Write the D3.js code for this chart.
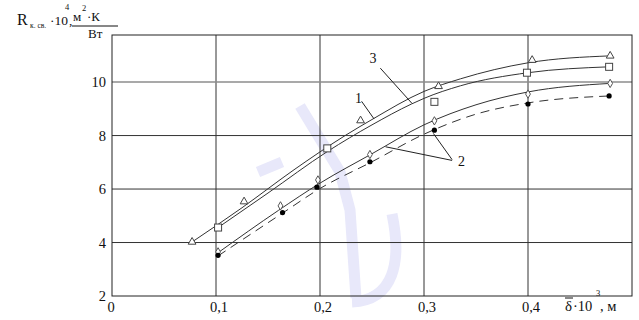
<!DOCTYPE html>
<html>
<head>
<meta charset="utf-8">
<script src="https://cdn.jsdelivr.net/npm/d3@7"></script>
<style>
  body { margin: 0; background: #fff; }
  text { font-family: "Liberation Serif", "Times New Roman", serif; fill: #111; }
</style>
</head>
<body>
<div id="chart"></div>
<script>
//Data
const xTicks = [0, 0.1, 0.2, 0.3, 0.4];
const yTicks = [2, 4, 6, 8, 10];

//measured points
const triX = [0.077, 0.127, 0.239, 0.314, 0.404, 0.479];
const triY = [4.02, 5.53, 8.56, 9.84, 10.82, 10.98];
const sqX = [0.102, 0.207, 0.31, 0.399, 0.478];
const sqY = [4.56, 7.52, 9.26, 10.35, 10.57];
const diaX = [0.102, 0.162, 0.198, 0.248, 0.31, 0.40, 0.479];
const diaY = [3.65, 5.37, 6.34, 7.29, 8.55, 9.55, 9.95];
const dotX = [0.102, 0.164, 0.197, 0.248, 0.31, 0.40, 0.478];
const dotY = [3.52, 5.12, 6.07, 7.02, 8.20, 9.18, 9.48];

//fitted curves
const curve1X = [0.077, 0.125, 0.175, 0.225, 0.25, 0.3, 0.335, 0.4, 0.479];
const curve1Y = [4.02, 5.3, 6.72, 8.02, 8.6, 9.65, 10.12, 10.72, 10.98];
const curve3X = [0.102, 0.15, 0.207, 0.25, 0.288, 0.3, 0.335, 0.4, 0.478];
const curve3Y = [4.56, 5.85, 7.4, 8.4, 9.18, 9.39, 9.86, 10.35, 10.57];
const curve2X = [0.102, 0.16, 0.2, 0.25, 0.3, 0.35, 0.4, 0.479];
const curve2Y = [3.62, 5.2, 6.22, 7.32, 8.4, 9.15, 9.63, 9.95];
const curve2dX = [0.102, 0.164, 0.2, 0.25, 0.3, 0.35, 0.4, 0.478];
const curve2dY = [3.5, 5.1, 6.02, 7.02, 8.05, 8.8, 9.22, 9.48];

const w = 639, h = 320;
const svg = d3.select('#chart').append('svg')
  .attr('width', w)
  .attr('height', h);

const x = d3.scaleLinear().domain([0, 0.5]).range([112, 632]);
const y = d3.scaleLinear().domain([2, 11.76]).range([296, 35]);

//watermark (faint)
const wm = svg.append('g').attr('fill', 'none').attr('stroke', '#e8e8fa')
  .attr('stroke-width', 11);
wm.append('path').attr('d', 'M300,106 L340,172 L350,210 L356,298');
wm.append('path').attr('d', 'M258,172 L282,162');
wm.append('path').attr('d', 'M392,214 C402,262 394,300 352,302');

//grid
const grid = svg.append('g');
grid.selectAll('.vg').data(xTicks.slice(1)).join('line')
  .attr('x1', d => x(d)).attr('x2', d => x(d))
  .attr('y1', y(11.76)).attr('y2', y(2))
  .attr('stroke', '#333').attr('stroke-width', 1);
grid.selectAll('.hg').data(yTicks.slice(1)).join('line')
  .attr('x1', x(0)).attr('x2', x(0.5))
  .attr('y1', d => y(d)).attr('y2', d => y(d))
  .attr('stroke', d => d === 10 ? '#8c8c8c' : '#333')
  .attr('stroke-width', d => d === 10 ? 1.6 : 1);
svg.append('rect')
  .attr('x', x(0)).attr('y', y(11.76))
  .attr('width', x(0.5) - x(0)).attr('height', y(2) - y(11.76))
  .attr('fill', 'none').attr('stroke', '#222').attr('stroke-width', 1);

//tick labels
const fmt = d => d === 0 ? '0' : d3.format('.1f')(d).replace('.', ',');
svg.selectAll('.xt').data(xTicks).join('text')
  .attr('x', d => x(d) + (d === 0 ? -1 : 3)).attr('y', 312)
  .attr('text-anchor', 'middle').attr('font-size', 14.5)
  .text(fmt);
svg.selectAll('.yt').data(yTicks).join('text')
  .attr('x', 106).attr('y', d => y(d) + 5)
  .attr('text-anchor', 'end').attr('font-size', 14.5)
  .text(d => d);

//curves
const line = d3.line().x(d => x(d[0])).y(d => y(d[1])).curve(d3.curveMonotoneX);
const curves = [
  [curve1X, curve1Y, null],
  [curve3X, curve3Y, null],
  [curve2X, curve2Y, null],
  [curve2dX, curve2dY, '9,6']
];
curves.forEach(c => {
  svg.append('path')
    .datum(d3.zip(c[0], c[1]))
    .attr('d', line)
    .attr('fill', 'none')
    .attr('stroke', '#333')
    .attr('stroke-width', 1)
    .attr('stroke-dasharray', c[2]);
});

//markers
const tri = d3.symbol().type(d3.symbolTriangle).size(26);
svg.selectAll('.tri').data(d3.zip(triX, triY)).join('path')
  .attr('d', tri)
  .attr('transform', d => `translate(${x(d[0])},${y(d[1])})`)
  .attr('fill', '#fff').attr('stroke', '#444').attr('stroke-width', 1);
svg.selectAll('.sq').data(d3.zip(sqX, sqY)).join('rect')
  .attr('x', d => x(d[0]) - 3.5).attr('y', d => y(d[1]) - 3.5)
  .attr('width', 7).attr('height', 7)
  .attr('fill', '#fff').attr('stroke', '#444').attr('stroke-width', 1);
const dia = d3.symbol().type(d3.symbolDiamond).size(20);
svg.selectAll('.dia').data(d3.zip(diaX, diaY)).join('path')
  .attr('d', dia)
  .attr('transform', d => `translate(${x(d[0])},${y(d[1])})`)
  .attr('fill', '#fff').attr('stroke', '#555').attr('stroke-width', 1);
svg.selectAll('.dot').data(d3.zip(dotX, dotY)).join('circle')
  .attr('cx', d => x(d[0])).attr('cy', d => y(d[1]))
  .attr('r', 2.6).attr('fill', '#000');

//curve labels with leaders
const leaders = [
  [[0.240, 9.28], [0.252, 8.62]],
  [[0.258, 10.52], [0.2885, 9.2]],
  [[0.327, 7.07], [0.263, 7.58]],
  [[0.327, 7.1], [0.309, 8.08]]
];
leaders.forEach(l => {
  svg.append('line')
    .attr('x1', x(l[0][0])).attr('y1', y(l[0][1]))
    .attr('x2', x(l[1][0])).attr('y2', y(l[1][1]))
    .attr('stroke', '#222').attr('stroke-width', 1);
});
const labels = [['1', 0.237, 9.42], ['3', 0.251, 10.9], ['2', 0.336, 7.05]];
svg.selectAll('.lab').data(labels).join('text')
  .attr('x', d => x(d[1])).attr('y', d => y(d[2]) + 5)
  .attr('text-anchor', 'middle').attr('font-size', 14)
  .text(d => d[0]);

//y axis title
const yt = svg.append('g');
yt.append('text').attr('x', 17).attr('y', 25).attr('font-size', 16).text('R');
yt.append('text').attr('x', 30).attr('y', 28).attr('font-size', 7.5).text('к. св.');
yt.append('text').attr('x', 50).attr('y', 25).attr('font-size', 13.5).text('·10');
yt.append('text').attr('x', 65).attr('y', 10).attr('font-size', 8.5).text('4');
yt.append('text').attr('x', 69).attr('y', 25).attr('font-size', 13.5).text(',');
yt.append('text').attr('x', 73).attr('y', 21).attr('font-size', 13).text('м');
yt.append('text').attr('x', 82).attr('y', 11).attr('font-size', 8.5).text('2');
yt.append('text').attr('x', 87).attr('y', 21).attr('font-size', 13).text('·К');
yt.append('line').attr('x1', 72).attr('x2', 118).attr('y1', 26).attr('y2', 26)
  .attr('stroke', '#111').attr('stroke-width', 1);
yt.append('text').attr('x', 88).attr('y', 38).attr('font-size', 13).text('Вт');

//x axis title
const xt = svg.append('g');
xt.append('text').attr('x', 565).attr('y', 311).attr('font-size', 15).text('δ');
xt.append('line').attr('x1', 565).attr('x2', 573).attr('y1', 298).attr('y2', 298)
  .attr('stroke', '#111').attr('stroke-width', 1);
xt.append('text').attr('x', 573).attr('y', 311).attr('font-size', 14.5).text('·10');
xt.append('text').attr('x', 596).attr('y', 296).attr('font-size', 8.5).text('3');
xt.append('text').attr('x', 600).attr('y', 311).attr('font-size', 14.5).text(', м');
</script>
</body>
</html>
